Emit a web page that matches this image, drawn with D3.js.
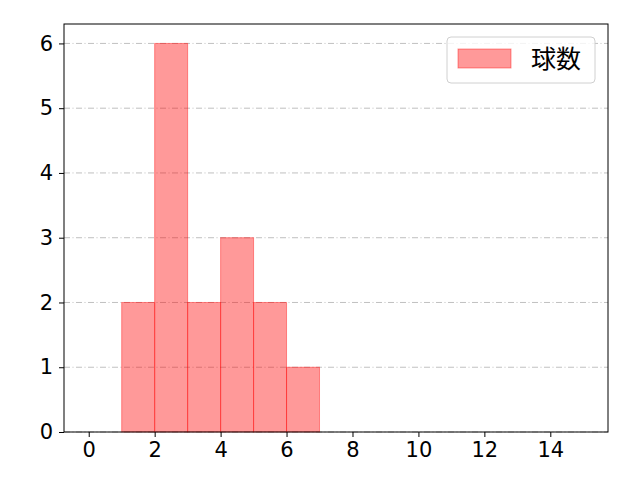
<!DOCTYPE html>
<html><head><meta charset="utf-8">
<script src="https://cdn.jsdelivr.net/npm/d3@7"></script>
<style>body{margin:0;background:#fff}svg{display:block}</style>
</head><body>
<svg id="c" width="640" height="480"></svg>
<script>
const binStarts = [0,1,2,3,4,5,6,7,8,9,10,11,12,13,14];
const counts    = [0,2,6,2,3,2,1,0,0,0,0,0,0,0,0];
const xTicks = [0,2,4,6,8,10,12,14];
const yTicks = [0,1,2,3,4,5,6];
const seriesName = "球数";

const W=640,H=480, L=64, R=608, T=24, B=432;
const font = "'DejaVu Sans', sans-serif";
const cjk = "'Noto Sans CJK JP', sans-serif";
const svg = d3.select("#c");
const x = d3.scaleLinear().domain([-0.75,15.75]).range([L,R]);
const y = d3.scaleLinear().domain([0,6.3]).range([B,T]);

// grid
svg.append("g").selectAll("line").data(yTicks).join("line")
  .attr("x1",L).attr("x2",R).attr("y1",d=>y(d)).attr("y2",d=>y(d))
  .attr("stroke","#b0b0b0").attr("stroke-width",0.8)
  .attr("stroke-dasharray","6,2.5,1,2.5");

// bars
svg.append("g").selectAll("rect").data(binStarts).join("rect")
  .attr("x",d=>x(d)).attr("width",d=>x(d+1)-x(d))
  .attr("y",(d,i)=>y(counts[i])).attr("height",(d,i)=>y(0)-y(counts[i]))
  .attr("fill","red").attr("fill-opacity",0.4)
  .attr("stroke","red").attr("stroke-opacity",0.4).attr("stroke-width",1);

// axes frame
svg.append("rect").attr("x",L).attr("y",T).attr("width",R-L).attr("height",B-T)
  .attr("fill","none").attr("stroke","#000").attr("stroke-width",1);

const xa = svg.append("g").attr("transform",`translate(0,${B})`)
  .call(d3.axisBottom(x).tickValues(xTicks).tickSize(5).tickPadding(5).tickFormat(d3.format("d")));
const ya = svg.append("g").attr("transform",`translate(${L},0)`)
  .call(d3.axisLeft(y).tickValues(yTicks).tickSize(5).tickPadding(6).tickFormat(d3.format("d")));
[xa,ya].forEach(a=>{
  a.select(".domain").remove();
  a.selectAll("line").attr("stroke","#000").attr("stroke-width",1);
  a.selectAll("text").attr("font-family",font).attr("font-size",21).attr("fill","#000");
});

// legend
const lg = svg.append("g");
lg.append("rect").attr("x",447).attr("y",37).attr("width",148).attr("height",46)
  .attr("rx",4).attr("fill","#fff").attr("fill-opacity",0.8).attr("stroke","#d0d0d0");
lg.append("rect").attr("x",458).attr("y",49).attr("width",53).attr("height",19)
  .attr("fill","red").attr("fill-opacity",0.4).attr("stroke","red").attr("stroke-opacity",0.4);
lg.append("text").attr("x",531).attr("y",68).text(seriesName)
  .attr("font-family",cjk).attr("font-size",25).attr("fill","#000");
</script>
</body></html>
